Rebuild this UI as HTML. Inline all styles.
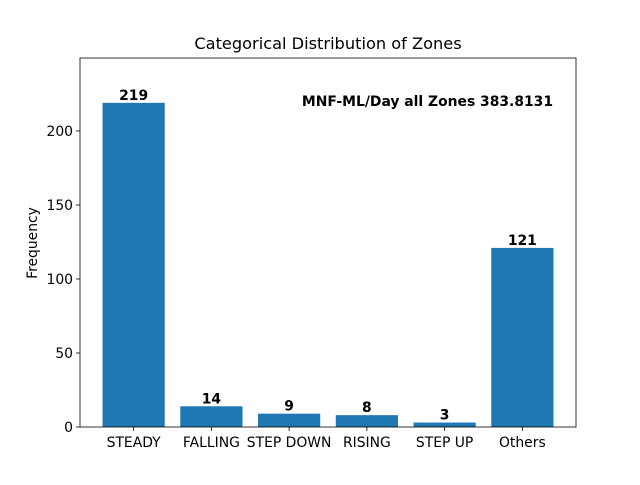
<!DOCTYPE html>
<html><head><meta charset="utf-8"><style>
body{margin:0;background:#fff;}
svg text{font-family:"DejaVu Sans","Liberation Sans",sans-serif;}
</style></head><body>
<svg id="chart" width="640" height="480" xmlns="http://www.w3.org/2000/svg">
<rect width="640" height="480" fill="#fff"/>
<text x="328" y="49" font-size="16.2" text-anchor="middle">Categorical Distribution of Zones</text>
<g id="bars"></g>
<g id="axes"></g>
<text x="553" y="106" font-size="13.9" font-weight="bold" text-anchor="end">MNF-ML/Day all Zones 383.8131</text>
<text transform="translate(37,243) rotate(-90)" font-size="13.9" text-anchor="middle">Frequency</text>
</svg>
<script>
const categories=["STEADY","FALLING","STEP DOWN","RISING","STEP UP","Others"];
const values=[219,14,9,8,3,121];
const yTicks=[0,50,100,150,200];
const L=80,R=576,T=58,B=427,yMax=249.3;
const n=categories.length;
const xmin=-0.69,xmax=n-1+0.69;
const xs=i=>L+(i-xmin)/(xmax-xmin)*(R-L);
const ys=v=>B-v/yMax*(B-T);
const unit=(R-L)/(xmax-xmin);
const NS="http://www.w3.org/2000/svg";
const bars=document.getElementById('bars'),axes=document.getElementById('axes');
function mk(tag,attrs,parent,txt){const e=document.createElementNS(NS,tag);for(const k in attrs)e.setAttribute(k,attrs[k]);if(txt!==undefined)e.textContent=txt;parent.appendChild(e);return e;}
values.forEach((v,i)=>{
 const r=mk('rect',{x:xs(i)-0.4*unit,y:ys(v),width:0.8*unit,height:B-ys(v),fill:'#1f77b4'},bars);
 
 
 const t=mk('text',{x:xs(i),y:ys(v)-3,'font-size':'13.9','font-weight':'bold','text-anchor':'middle'},bars,String(v));
 
 
 mk('line',{x1:xs(i),x2:xs(i),y1:B,y2:B+4,stroke:'#000','stroke-width':0.8},axes);
 const xl=mk('text',{x:xs(i),y:B+20,'font-size':'13.9','text-anchor':'middle'},axes,categories[i]);
 
 
});
yTicks.forEach(v=>{
 mk('line',{x1:L-4,x2:L,y1:ys(v),y2:ys(v),stroke:'#000','stroke-width':0.8},axes);
 const yl=mk('text',{x:L-7,y:ys(v)+5,'font-size':'13.9','text-anchor':'end'},axes,String(v));
 
 
});
const fr=mk('rect',{x:L,y:T,width:R-L,height:B-T,fill:'none',stroke:'#000','stroke-width':0.8},axes);


</script>
</body></html>
